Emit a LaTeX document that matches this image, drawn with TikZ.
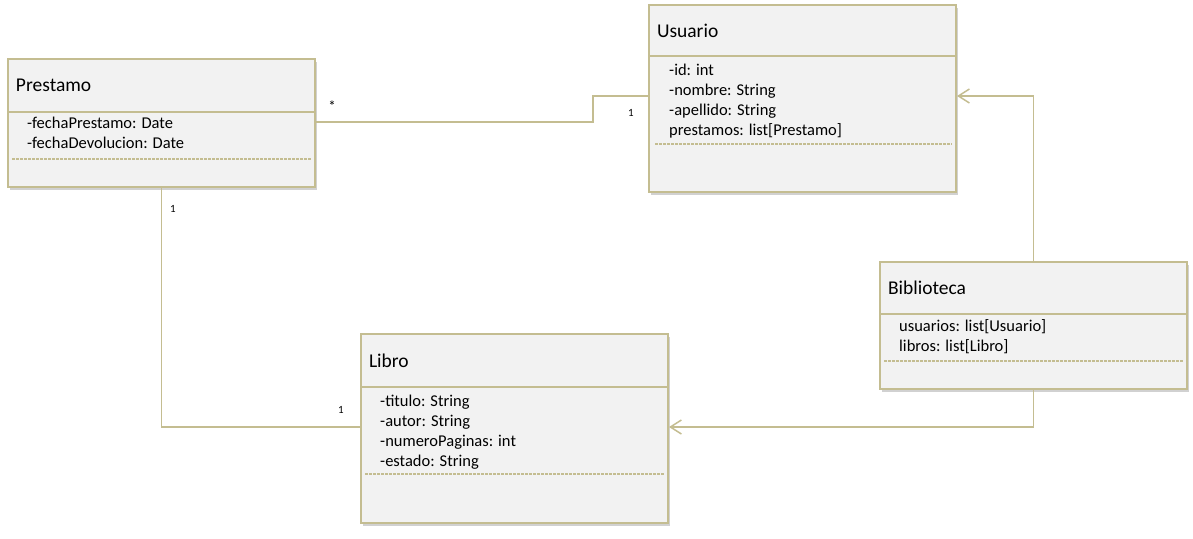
\documentclass[tikz,border=0pt]{standalone}
\usepackage{fontspec}
\setmainfont{Carlito}
\definecolor{umlline}{RGB}{196,189,145}
\definecolor{umlfill}{RGB}{242,242,242}
\usetikzlibrary{positioning,shadows,arrows.meta}

\tikzset{
    classhead/.style={draw=umlline, line width=2pt, fill=umlfill, minimum width=307pt,
        text width=291pt, align=left, inner sep=8pt, font=\fontsize{19.5}{23}\selectfont,
        drop shadow={shadow xshift=2pt, shadow yshift=-3pt, opacity=0.3, fill=black!60}},
    classbody/.style={draw=umlline, line width=2pt, fill=umlfill, minimum width=307pt,
        inner sep=0pt, drop shadow={shadow xshift=2pt, shadow yshift=-3pt, opacity=0.3, fill=black!60}},
    attrs/.style={anchor=north west, align=left, inner sep=0pt, font=\fontsize{16.5}{20}\selectfont},
    sepline/.style={umlline, line width=1.2pt, dash pattern=on 2.5pt off 1.5pt},
    assoc/.style={umlline, line width=1.5pt},
    navig/.style={umlline, line width=1.5pt, -{Straight Barb[length=11pt, width=14pt, line width=1.5pt]}},
    mult/.style={font=\fontsize{11}{13}\selectfont, inner sep=0pt}
}

\begin{document}
\begin{tikzpicture}[x=1pt, y=-1pt]
    \useasboundingbox (0,0) rectangle (1193,538);

    % Usuario
    \node[classhead, minimum height=51pt, anchor=north west] (usuario) at (648,4) {Usuario};
    \node[classbody, minimum height=136pt, below=-2pt of usuario] (usuarioBody) {};
    \node[attrs] (usuarioAttrs) at ([shift={(21,9)}]usuarioBody.north west)
        {-id: int\\-nombre: String\\-apellido: String\\prestamos: list[Prestamo]};
    \draw[sepline] ([shift={(7,89)}]usuarioBody.north west) -- ([shift={(-5,89)}]usuarioBody.north east);

    % Prestamo
    \node[classhead, minimum height=53pt, anchor=north west] (prestamo) at (7,58) {Prestamo};
    \node[classbody, minimum height=75pt, below=-2pt of prestamo] (prestamoBody) {};
    \node[attrs] (prestamoAttrs) at ([shift={(20,6)}]prestamoBody.north west)
        {-fechaPrestamo: Date\\-fechaDevolucion: Date};
    \draw[sepline] ([shift={(5,48)}]prestamoBody.north west) -- ([shift={(-5,48)}]prestamoBody.north east);

    % Libro
    \node[classhead, minimum height=53pt, anchor=north west] (libro) at (360,333) {Libro};
    \node[classbody, minimum height=136pt, below=-2pt of libro] (libroBody) {};
    \node[attrs] (libroAttrs) at ([shift={(20,9)}]libroBody.north west)
        {-titulo: String\\-autor: String\\-numeroPaginas: int\\-estado: String};
    \draw[sepline] ([shift={(5,88)}]libroBody.north west) -- ([shift={(-5,88)}]libroBody.north east);

    % Biblioteca
    \node[classhead, minimum height=52pt, anchor=north west] (biblioteca) at (879,261) {Biblioteca};
    \node[classbody, minimum height=75pt, below=-2pt of biblioteca] (bibliotecaBody) {};
    \node[attrs] (bibliotecaAttrs) at ([shift={(20,6)}]bibliotecaBody.north west)
        {usuarios: list[Usuario]\\libros: list[Libro]};
    \draw[sepline] ([shift={(5,48)}]bibliotecaBody.north west) -- ([shift={(-5,48)}]bibliotecaBody.north east);

    % associations
    \draw[assoc] ([yshift=-11pt]prestamoBody.north east) -- ++(277,0) |- ([yshift=-41pt]usuarioBody.north west);
    \draw[assoc] (prestamoBody.south) |- ([yshift=-41pt]libroBody.north west);
    \draw[navig] (biblioteca.north) |- ([yshift=-41pt]usuarioBody.north east);
    \draw[navig] (bibliotecaBody.south) |- ([yshift=-41pt]libroBody.north east);

    \node[mult, font=\fontsize{15}{15}\selectfont] (multA) at (332,106) {*};
    \node[mult] (multB) at (631,113) {1};
    \node[mult] (multC) at (173,209) {1};
    \node[mult] (multD) at (341,410) {1};
\end{tikzpicture}
\end{document}
